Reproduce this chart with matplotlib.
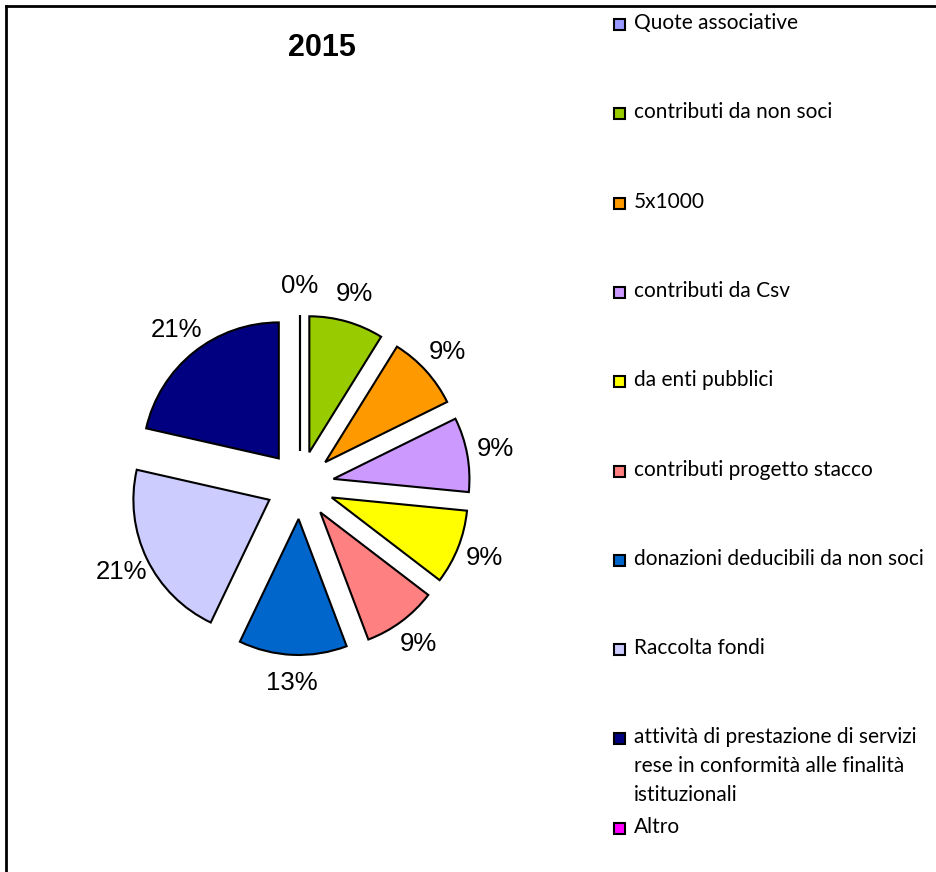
import matplotlib.pyplot as plt
from matplotlib.patches import Rectangle
from matplotlib.lines import Line2D

categories = ['Quote associative', 'contributi da non soci', '5x1000', 'contributi da Csv',
              'da enti pubblici', 'contributi progetto stacco',
              'donazioni deducibili da non soci', 'Raccolta fondi',
              'attività di prestazione di servizi\nrese in conformità alle finalità\nistituzionali',
              'Altro']
shares = [0, 8.85, 8.85, 8.85, 8.85, 8.85, 12.85, 21.45, 21.45, 0]
colors = ['#9999FF', '#99CC00', '#FF9900', '#CC99FF', '#FFFF00',
          '#FF8080', '#0066CC', '#CCCCFF', '#000080', '#FF00FF']

W, H = 937, 872
fig = plt.figure(figsize=(W / 100, H / 100), dpi=100)

# pie placement in pixels
cx, cy, R = 300, 485, 136
half = 200
ax = fig.add_axes([(cx - half) / W, (H - cy - half) / H, 2 * half / W, 2 * half / H])
wedges, texts, autotexts = ax.pie(shares, colors=colors, startangle=90, counterclock=False,
                                  explode=[0.25] * len(shares), autopct='%1.0f%%',
                                  pctdistance=1.21,
                                  wedgeprops=dict(edgecolor='black', linewidth=1.5),
                                  textprops=dict(fontsize=18.5, family='Liberation Sans'))
autotexts[-1].set_visible(False)  # Altro 0% sits on top of Quote 0%
lim = half / R
ax.set_xlim(-lim, lim)
ax.set_ylim(-lim, lim)

fig.text(322 / W, 1 - 48 / H, '2015', ha='center', va='center', fontsize=22,
         weight='bold', family='Liberation Sans')

# legend
top, step = 24, 89.3
for i, (lab, col) in enumerate(zip(categories, colors)):
    yc = top + i * step
    fig.add_artist(Rectangle((614 / W, 1 - (yc + 6) / H), 11 / W, 11 / H,
                             transform=fig.transFigure, facecolor=col,
                             edgecolor='black', linewidth=1.5))
    fig.text(634 / W, 1 - (yc - 11) / H, lab, ha='left', va='top', fontsize=15,
             family='Lato', linespacing=1.55)

# chart border
fig.add_artist(Line2D([6 / W, 6 / W], [0, 1 - 6 / H], color='black', lw=2,
                      transform=fig.transFigure))
fig.add_artist(Line2D([6 / W, 1], [1 - 6 / H, 1 - 6 / H], color='black', lw=2,
                      transform=fig.transFigure))

fig.savefig('out.png', dpi=100)
